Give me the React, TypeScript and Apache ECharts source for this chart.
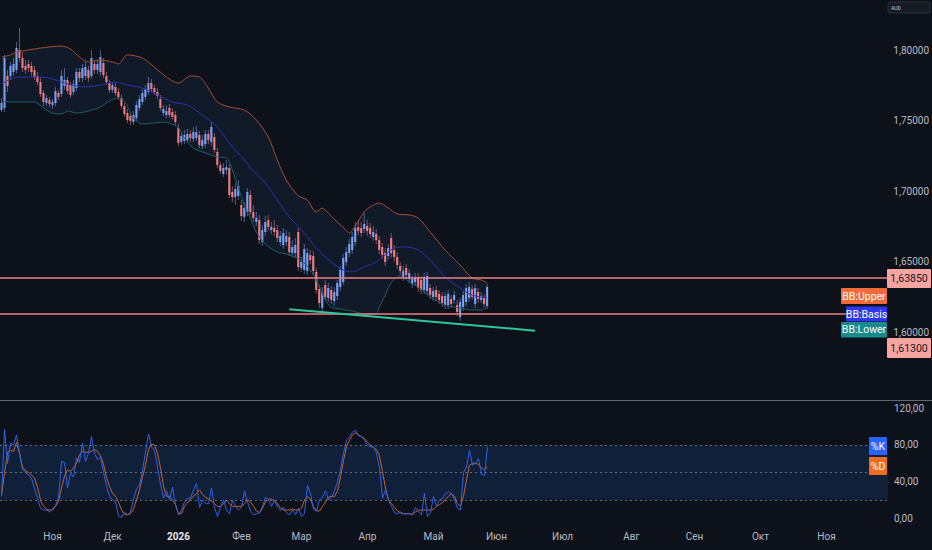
import React, { useEffect, useRef } from 'react';
import * as echarts from 'echarts';

// ---------- data ----------
const FIRST_DAY = [2025, 9, 9]; // 9 Oct 2025 (month is 0-based)
const BAR_SLOTS = 296; // visible daily slots incl. empty future
const holidays = ['2025-12-25', '2026-01-01'];

const opens = [
  1.7574, 1.7589, 1.7816, 1.7816, 1.7844, 1.7858, 1.8000, 1.7943, 1.7887, 1.7901,
  1.7887, 1.7858, 1.7816, 1.7773, 1.7695, 1.7624, 1.7645, 1.7610, 1.7624, 1.7695,
  1.7688, 1.7745, 1.7787, 1.7752, 1.7702, 1.7730, 1.7844, 1.7801, 1.7816, 1.7858,
  1.7816, 1.7901, 1.7858, 1.7844, 1.7908, 1.7816, 1.7766, 1.7716, 1.7738, 1.7702,
  1.7660, 1.7603, 1.7553, 1.7532, 1.7489, 1.7518, 1.7589, 1.7631, 1.7667, 1.7702,
  1.7766, 1.7730, 1.7702, 1.7652, 1.7553, 1.7539, 1.7589, 1.7560, 1.7539,
  1.7447, 1.7348, 1.7355, 1.7362, 1.7404, 1.7369, 1.7376, 1.7397, 1.7319,
  1.7333, 1.7404, 1.7348, 1.7383, 1.7277, 1.7184, 1.7121, 1.7149, 1.7163, 1.6993,
  1.6957, 1.6965, 1.6901, 1.6816, 1.6851, 1.6972, 1.6851, 1.6780, 1.6794, 1.6638,
  1.6709, 1.6794, 1.6723, 1.6738, 1.6723, 1.6638, 1.6617, 1.6638, 1.6674, 1.6560,
  1.6560, 1.6709, 1.6454, 1.6440, 1.6433, 1.6546, 1.6539, 1.6426, 1.6305, 1.6170,
  1.6333, 1.6241, 1.6298, 1.6220, 1.6255, 1.6319, 1.6355, 1.6496, 1.6560, 1.6582,
  1.6638, 1.6745, 1.6738, 1.6730, 1.6752, 1.6738, 1.6674, 1.6695, 1.6652, 1.6603,
  1.6560, 1.6539, 1.6667, 1.6582, 1.6532, 1.6468, 1.6390, 1.6454, 1.6376, 1.6340,
  1.6355, 1.6390, 1.6369, 1.6298, 1.6291, 1.6312, 1.6248, 1.6298, 1.6270, 1.6255,
  1.6191, 1.6191, 1.6234, 1.6227, 1.6191, 1.6106, 1.6177, 1.6213, 1.6241, 1.6305,
  1.6199, 1.6284, 1.6227, 1.6241, 1.6184,
];
const highs = [
  1.7660, 1.7965, 1.7858, 1.7915, 1.7943, 1.8057, 1.8156, 1.7986, 1.7929, 1.7929,
  1.7915, 1.7887, 1.7844, 1.7801, 1.7716, 1.7681, 1.7667, 1.7652, 1.7738, 1.7716,
  1.7858, 1.7872, 1.7809, 1.7773, 1.7787, 1.7872, 1.7872, 1.7901, 1.7915, 1.7887,
  1.8000, 1.7929, 1.7929, 1.8000, 1.7943, 1.7844, 1.7787, 1.7773, 1.7766, 1.7730,
  1.7681, 1.7624, 1.7582, 1.7560, 1.7567, 1.7638, 1.7681, 1.7723, 1.7752, 1.7809,
  1.7794, 1.7752, 1.7730, 1.7681, 1.7610, 1.7610, 1.7617, 1.7589, 1.7567,
  1.7475, 1.7418, 1.7433, 1.7440, 1.7433, 1.7454, 1.7461, 1.7426, 1.7397,
  1.7433, 1.7433, 1.7489, 1.7411, 1.7305, 1.7206, 1.7199, 1.7220, 1.7191, 1.7035,
  1.7057, 1.7078, 1.6936, 1.6922, 1.7021, 1.7007, 1.6901, 1.6851, 1.6830, 1.6759,
  1.6823, 1.6830, 1.6780, 1.6794, 1.6759, 1.6716, 1.6738, 1.6723, 1.6709, 1.6652,
  1.6667, 1.6738, 1.6532, 1.6624, 1.6596, 1.6582, 1.6574, 1.6454, 1.6333, 1.6319,
  1.6369, 1.6348, 1.6326, 1.6319, 1.6369, 1.6468, 1.6553, 1.6603, 1.6660, 1.6709,
  1.6780, 1.6794, 1.6780, 1.6844, 1.6794, 1.6773, 1.6752, 1.6730, 1.6681, 1.6631,
  1.6596, 1.6624, 1.6702, 1.6617, 1.6567, 1.6496, 1.6468, 1.6482, 1.6447, 1.6404,
  1.6418, 1.6418, 1.6397, 1.6418, 1.6426, 1.6340, 1.6319, 1.6326, 1.6298, 1.6284,
  1.6284, 1.6298, 1.6262, 1.6291, 1.6227, 1.6241, 1.6291, 1.6340, 1.6355, 1.6333,
  1.6340, 1.6312, 1.6284, 1.6270, 1.6340,
];
const lows = [
  1.7560, 1.7560, 1.7702, 1.7787, 1.7816, 1.7837, 1.7915, 1.7844, 1.7830, 1.7844,
  1.7816, 1.7787, 1.7752, 1.7667, 1.7603, 1.7603, 1.7596, 1.7582, 1.7603, 1.7645,
  1.7667, 1.7716, 1.7688, 1.7660, 1.7681, 1.7709, 1.7773, 1.7773, 1.7787, 1.7773,
  1.7794, 1.7830, 1.7830, 1.7816, 1.7801, 1.7752, 1.7695, 1.7695, 1.7674, 1.7645,
  1.7582, 1.7525, 1.7482, 1.7468, 1.7468, 1.7496, 1.7567, 1.7610, 1.7645, 1.7681,
  1.7702, 1.7681, 1.7652, 1.7567, 1.7532, 1.7518, 1.7518, 1.7504, 1.7468,
  1.7319, 1.7326, 1.7333, 1.7340, 1.7348, 1.7348, 1.7355, 1.7305, 1.7298,
  1.7305, 1.7333, 1.7319, 1.7270, 1.7163, 1.7121, 1.7099, 1.7113, 1.6950, 1.6922,
  1.6901, 1.6936, 1.6787, 1.6780, 1.6823, 1.6830, 1.6780, 1.6752, 1.6624, 1.6610,
  1.6681, 1.6716, 1.6695, 1.6681, 1.6638, 1.6610, 1.6589, 1.6610, 1.6539, 1.6532,
  1.6525, 1.6433, 1.6426, 1.6411, 1.6404, 1.6482, 1.6404, 1.6270, 1.6170, 1.6142,
  1.6227, 1.6213, 1.6199, 1.6184, 1.6227, 1.6291, 1.6333, 1.6468, 1.6532, 1.6553,
  1.6610, 1.6688, 1.6674, 1.6702, 1.6681, 1.6667, 1.6645, 1.6624, 1.6553, 1.6518,
  1.6468, 1.6511, 1.6525, 1.6496, 1.6447, 1.6404, 1.6362, 1.6376, 1.6348, 1.6312,
  1.6326, 1.6284, 1.6270, 1.6270, 1.6262, 1.6234, 1.6220, 1.6220, 1.6199, 1.6177,
  1.6163, 1.6163, 1.6170, 1.6199, 1.6113, 1.6078, 1.6149, 1.6184, 1.6213, 1.6227,
  1.6170, 1.6206, 1.6206, 1.6177, 1.6163,
];
const closes = [
  1.7624, 1.7943, 1.7745, 1.7887, 1.7901, 1.8014, 1.7943, 1.7872, 1.7858, 1.7872,
  1.7844, 1.7809, 1.7773, 1.7688, 1.7631, 1.7660, 1.7617, 1.7631, 1.7709, 1.7667,
  1.7816, 1.7787, 1.7709, 1.7681, 1.7759, 1.7844, 1.7801, 1.7872, 1.7879, 1.7801,
  1.7943, 1.7858, 1.7901, 1.7950, 1.7823, 1.7773, 1.7716, 1.7752, 1.7695, 1.7667,
  1.7603, 1.7546, 1.7504, 1.7496, 1.7539, 1.7610, 1.7652, 1.7695, 1.7723, 1.7766,
  1.7723, 1.7702, 1.7674, 1.7589, 1.7582, 1.7567, 1.7539, 1.7525, 1.7489,
  1.7340, 1.7390, 1.7397, 1.7404, 1.7376, 1.7418, 1.7418, 1.7326, 1.7362,
  1.7404, 1.7362, 1.7454, 1.7291, 1.7184, 1.7142, 1.7163, 1.7170, 1.6972, 1.6957,
  1.7014, 1.7035, 1.6823, 1.6879, 1.6993, 1.6851, 1.6809, 1.6809, 1.6652, 1.6723,
  1.6780, 1.6745, 1.6745, 1.6709, 1.6667, 1.6681, 1.6702, 1.6681, 1.6567, 1.6603,
  1.6617, 1.6461, 1.6496, 1.6589, 1.6560, 1.6511, 1.6433, 1.6298, 1.6206, 1.6277,
  1.6248, 1.6312, 1.6227, 1.6284, 1.6348, 1.6440, 1.6525, 1.6567, 1.6624, 1.6674,
  1.6738, 1.6716, 1.6702, 1.6766, 1.6716, 1.6695, 1.6709, 1.6652, 1.6582, 1.6546,
  1.6496, 1.6596, 1.6560, 1.6532, 1.6475, 1.6433, 1.6433, 1.6404, 1.6418, 1.6376,
  1.6390, 1.6312, 1.6298, 1.6390, 1.6397, 1.6262, 1.6291, 1.6248, 1.6227, 1.6206,
  1.6255, 1.6270, 1.6199, 1.6262, 1.6142, 1.6213, 1.6262, 1.6312, 1.6319, 1.6248,
  1.6312, 1.6234, 1.6255, 1.6199, 1.6319,
];

// Bollinger Bands: [bar index, price]
const bbUpper = [
  [0, 1.7950], [3, 1.7965], [5, 1.7986], [9, 1.8000], [13, 1.8014], [20, 1.8028], [23, 1.8007],
  [26, 1.7950], [29, 1.7915], [33, 1.7929], [37, 1.7915], [39, 1.7901], [42, 1.7965], [47, 1.7943],
  [51, 1.7879], [55, 1.7809], [59, 1.7766], [63, 1.7816], [66, 1.7809], [69, 1.7730], [72, 1.7631],
  [76, 1.7596], [81, 1.7574], [85, 1.7504], [89, 1.7383], [92, 1.7220], [95, 1.7078], [99, 1.6965],
  [102, 1.6936], [105, 1.6851], [107, 1.6879], [109, 1.6844], [112, 1.6780], [115, 1.6723],
  [116, 1.6702], [118, 1.6752], [121, 1.6851], [123, 1.6887], [126, 1.6915], [129, 1.6879],
  [132, 1.6837], [136, 1.6830], [139, 1.6809], [143, 1.6709], [148, 1.6582], [153, 1.6475],
  [157, 1.6383], [160, 1.6369], [162, 1.6348],
];
const bbBasis = [
  [0, 1.7759], [3, 1.7794], [6, 1.7809], [11, 1.7809], [16, 1.7801], [22, 1.7759], [28, 1.7738],
  [33, 1.7752], [38, 1.7773], [42, 1.7752], [47, 1.7730], [52, 1.7681], [57, 1.7631], [62, 1.7610],
  [67, 1.7539], [72, 1.7454], [76, 1.7340], [81, 1.7220], [83, 1.7163], [88, 1.7057], [92, 1.6936],
  [96, 1.6816], [101, 1.6702], [105, 1.6596], [110, 1.6496], [114, 1.6440], [117, 1.6426],
  [121, 1.6461], [125, 1.6496], [128, 1.6546], [131, 1.6596], [135, 1.6603], [139, 1.6582],
  [143, 1.6511], [148, 1.6390], [153, 1.6312], [157, 1.6262], [162, 1.6241],
];
const bbLower = [
  [0, 1.7638], [3, 1.7631], [6, 1.7631], [11, 1.7631], [14, 1.7589], [17, 1.7553], [20, 1.7546],
  [22, 1.7567], [25, 1.7553], [29, 1.7567], [33, 1.7596], [36, 1.7638], [39, 1.7660], [41, 1.7638],
  [44, 1.7518], [47, 1.7475], [51, 1.7482], [54, 1.7489], [56, 1.7482], [59, 1.7447], [61, 1.7376],
  [64, 1.7305], [68, 1.7270], [72, 1.7241], [75, 1.7234], [77, 1.7149], [79, 1.7021], [81, 1.6901],
  [83, 1.6809], [85, 1.6709], [88, 1.6624], [92, 1.6567], [95, 1.6553], [99, 1.6518], [102, 1.6468],
  [105, 1.6369], [108, 1.6227], [110, 1.6177], [113, 1.6163], [117, 1.6149], [121, 1.6128],
  [125, 1.6128], [126, 1.6177], [128, 1.6262], [130, 1.6348], [133, 1.6397], [136, 1.6355],
  [139, 1.6319], [143, 1.6248], [148, 1.6191], [153, 1.6170], [157, 1.6156], [160, 1.6156],
  [162, 1.6177],
];

// Stochastic %K / %D per bar
const stochK = [
  24, 97, 60, 82, 80, 91, 71, 53, 51, 47, 44, 32, 22, 11, 9, 9, 7, 10, 14, 23,
  62, 61, 33, 49, 45, 66, 61, 82, 62, 71, 89, 71, 64, 67, 50, 35, 24, 20, 18, 3,
  1, 7, 4, 7, 21, 32, 36, 52, 72, 92, 78, 74, 56, 37, 22, 30, 20, 34, 15,
  4, 9, 18, 22, 22, 31, 38, 12, 20, 16, 16, 33, 12, 2, 12, 20, 9, 5, 20,
  13, 9, 12, 30, 18, 8, 4, 5, 6, 13, 23, 20, 13, 20, 12, 9, 12, 6, 4, 9,
  4, 11, 2, 5, 36, 27, 10, 8, 20, 23, 30, 20, 23, 30, 40, 53, 71, 85, 89, 94,
  96, 90, 89, 85, 80, 78, 78, 71, 55, 22, 31, 20, 13, 6, 5, 7, 5, 5, 5, 4,
  12, 7, 4, 27, 2, 6, 24, 13, 20, 22, 27, 29, 27, 20, 11, 9, 50, 56, 74, 58,
  60, 65, 48, 47, 78,
];
const stochD = [
  25, 49, 72, 74, 73, 83, 71, 56, 52, 50, 47, 44, 34, 20, 13, 10, 9, 9, 13, 18,
  33, 46, 53, 51, 55, 60, 69, 73, 72, 72, 73, 75, 73, 68, 59, 44, 35, 27, 24, 18,
  9, 4, 4, 5, 10, 20, 31, 45, 58, 75, 81, 80, 71, 55, 35, 24, 24, 20, 15,
  5, 5, 13, 17, 21, 24, 27, 31, 26, 23, 21, 19, 16, 13, 13, 16, 20, 16, 13,
  13, 13, 13, 16, 20, 18, 13, 8, 6, 11, 18, 21, 21, 19, 16, 11, 9, 9, 9, 10,
  9, 9, 11, 20, 24, 20, 13, 8, 8, 13, 18, 23, 24, 24, 30, 45, 63, 78, 85, 91,
  93, 91, 89, 87, 83, 80, 77, 75, 68, 51, 33, 20, 16, 12, 8, 6, 5, 5, 5, 4,
  7, 9, 9, 9, 9, 9, 10, 13, 15, 17, 21, 24, 27, 24, 16, 13, 24, 42, 58, 60,
  60, 59, 55, 53, 56,
];

const levelPrices = [1.6385, 1.613];
const levelLabels = ['1,63850', '1,61300'];
const trendLine = [[96, 1.6161], [178, 1.6009]];
const priceTicks = [1.6, 1.65, 1.7, 1.75, 1.8];
const stochTicks = [0, 40, 80, 120];
const stochGuides = [20, 50, 80];
const monthNames = ['Янв', 'Фев', 'Мар', 'Апр', 'Май', 'Июн', 'Июл', 'Авг', 'Сен', 'Окт', 'Ноя', 'Дек'];
const bbTags = ['BB:Upper', 'BB:Basis', 'BB:Lower'];
const stochTags = ['%K', '%D'];

// ---------- style ----------
const BG = '#0d1119';
const FONT = 'Roboto, "Noto Sans", sans-serif';
const AXIS_TEXT = '#b8bbc4';
const UP = '#7ba2f2';
const DN = '#f27c81';
const UP_WICK = 'rgba(123,162,242,0.55)';
const DN_WICK = 'rgba(242,124,129,0.55)';
const LEVEL = '#ec8083';
const PX_PER_UNIT = 1410;
const PRICE_MAX = 1.8 + 50 / PX_PER_UNIT;
const PRICE_MIN = 1.8 - 350 / PX_PER_UNIT;

function buildDates(): string[] {
  const out: string[] = [];
  const d = new Date(Date.UTC(FIRST_DAY[0], FIRST_DAY[1], FIRST_DAY[2]));
  while (out.length < BAR_SLOTS) {
    const wd = d.getUTCDay();
    const s = d.toISOString().slice(0, 10);
    if (wd !== 0 && wd !== 6 && holidays.indexOf(s) < 0) out.push(s);
    d.setUTCDate(d.getUTCDate() + 1);
  }
  return out;
}

function buildOption() {
  const dates = buildDates();
  const isMonthStart = (i: number) => i > 0 && dates[i].slice(5, 7) !== dates[i - 1].slice(5, 7);
  const comma = (v: number, d: number) => v.toFixed(d).replace('.', ',');
  const candleData = opens.map((o, i) => [i, o, closes[i], lows[i], highs[i]]);

  const tag = (x: number, y: number, w: number, h: number, fill: string, text: string, color: string) => [
    { type: 'rect', shape: { x, y, width: w, height: h, r: 1 }, style: { fill }, z: 100 },
    {
      type: 'text', x: x + w / 2, y: y + h / 2, z: 101,
      style: { text, fill: color, fontSize: 10.5, fontFamily: FONT, align: 'center', verticalAlign: 'middle' },
    },
  ];

  return {
    animation: false,
    backgroundColor: BG,
    textStyle: { fontFamily: FONT },
    grid: [
      { left: 0, right: 44, top: 0, height: 400 },
      { left: 0, right: 44, top: 399.1, height: 128.4 },
    ],
    xAxis: [
      { type: 'category', data: dates, gridIndex: 0, show: false },
      {
        type: 'category', data: dates, gridIndex: 1,
        axisLine: { show: false }, axisTick: { show: false }, splitLine: { show: false },
        axisLabel: {
          interval: (i: number) => isMonthStart(i) && i < BAR_SLOTS - 4,
          formatter: (v: string) => {
            const m = +v.slice(5, 7);
            return m === 1 ? `{yr|${v.slice(0, 4)}}` : monthNames[m - 1];
          },
          color: AXIS_TEXT, fontSize: 10, margin: 4,
          rich: { yr: { fontWeight: 'bold', color: '#e6e8ee', fontSize: 10 } },
        },
      },
    ],
    yAxis: [
      {
        type: 'value', gridIndex: 0, position: 'right', min: PRICE_MIN, max: PRICE_MAX,
        axisLine: { show: false }, axisTick: { show: false }, splitLine: { show: false },
        axisLabel: {
          customValues: priceTicks,
          formatter: (v: number) => comma(v, 5), color: AXIS_TEXT, fontSize: 10, margin: 6,
        },
      },
      {
        type: 'value', gridIndex: 1, position: 'right', min: -10, max: 130,
        axisLine: { show: false }, axisTick: { show: false }, splitLine: { show: false },
        axisLabel: {
          customValues: stochTicks,
          formatter: (v: number) => comma(v, 2), color: AXIS_TEXT, fontSize: 10, margin: 6,
        },
      },
    ],
    series: [
      {
        name: 'bbFill', type: 'custom', xAxisIndex: 0, yAxisIndex: 0, z: 1, silent: true,
        data: [[0, bbBasis[0][1]]],
        renderItem: (_p: any, api: any) => {
          const up = bbUpper.map(([i, v]) => api.coord([i, v]));
          const lo = bbLower.map(([i, v]) => api.coord([i, v])).reverse();
          return { type: 'polygon', shape: { points: up.concat(lo), smooth: 0.25 }, style: { fill: '#111a29' } };
        },
      },
      {
        name: 'candles', type: 'custom', xAxisIndex: 0, yAxisIndex: 0, z: 2,
        data: candleData,
        encode: { x: 0, y: [1, 2, 3, 4] },
        renderItem: (_p: any, api: any) => {
          const i = api.value(0);
          const o = api.value(1), c = api.value(2), l = api.value(3), h = api.value(4);
          const bull = c >= o;
          const pH = api.coord([i, h]);
          const pL = api.coord([i, l]);
          const pO = api.coord([i, o]);
          const pC = api.coord([i, c]);
          const w = api.size([1, 0])[0] * 0.7;
          const top = Math.min(pO[1], pC[1]);
          const hh = Math.max(Math.abs(pO[1] - pC[1]), 1);
          return {
            type: 'group',
            children: [
              { type: 'line', shape: { x1: pH[0], y1: pH[1], x2: pL[0], y2: pL[1] }, style: { stroke: bull ? UP_WICK : DN_WICK, lineWidth: 1 } },
              { type: 'rect', shape: { x: pO[0] - w / 2, y: top, width: w, height: hh }, style: { fill: bull ? UP : DN } },
            ],
          };
        },
      },
      {
        name: 'BB Upper', type: 'line', xAxisIndex: 0, yAxisIndex: 0, z: 3, data: bbUpper,
        smooth: 0.3, symbol: 'none', silent: true, lineStyle: { color: '#a44e30', width: 1 },
      },
      {
        name: 'BB Lower', type: 'line', xAxisIndex: 0, yAxisIndex: 0, z: 3, data: bbLower,
        smooth: 0.3, symbol: 'none', silent: true, lineStyle: { color: '#1c6068', width: 1 },
      },
      {
        name: 'BB Basis', type: 'line', xAxisIndex: 0, yAxisIndex: 0, z: 4, data: bbBasis,
        smooth: 0.3, symbol: 'none', silent: true, lineStyle: { color: '#2a32b0', width: 1 },
        markLine: {
          silent: true, symbol: ['none', 'none'], label: { show: false }, precision: 5,
          data: [
            ...levelPrices.map((p) => ({ yAxis: p, lineStyle: { color: LEVEL, width: 1.5, type: 'solid' } })),
            [
              { coord: trendLine[0], lineStyle: { color: '#2bc79b', width: 2, type: 'solid' } },
              { coord: trendLine[1], lineStyle: { color: '#2bc79b', width: 2, type: 'solid' } },
            ],
          ],
        },
      },
      {
        name: '%D', type: 'line', xAxisIndex: 1, yAxisIndex: 1, z: 3, data: stochD,
        symbol: 'none', silent: true, lineStyle: { color: '#c9622c', width: 1 },
        markArea: {
          silent: true,
          itemStyle: { color: '#102039' },
          data: [[{ yAxis: stochGuides[0] }, { yAxis: stochGuides[2] }]],
        },
        markLine: {
          silent: true, symbol: ['none', 'none'], label: { show: false },
          lineStyle: { color: 'rgba(125,130,145,0.75)', width: 1, type: [2, 3] },
          data: stochGuides.map((g) => ({ yAxis: g })),
        },
      },
      {
        name: '%K', type: 'line', xAxisIndex: 1, yAxisIndex: 1, z: 4, data: stochK,
        symbol: 'none', silent: true, lineStyle: { color: '#2f62e6', width: 1 },
      },
    ],
    graphic: [
      { type: 'line', shape: { x1: 0, y1: 400.5, x2: 932, y2: 400.5 }, style: { stroke: '#62666f', lineWidth: 1.2 }, z: 100 },
      { type: 'rect', shape: { x: 888, y: 2, width: 42, height: 11, r: 2 }, style: { fill: '#171b24', stroke: '#2c313c', lineWidth: 1 }, z: 100 },
      { type: 'text', x: 891, y: 7.5, z: 101, style: { text: 'AUD', fill: '#d1d4dc', fontSize: 5, fontFamily: FONT, verticalAlign: 'middle' } },
      ...tag(887, 269, 44, 19, '#f7a3a0', levelLabels[0], '#131722'),
      ...tag(887, 338, 44, 20, '#f7a3a0', levelLabels[1], '#131722'),
      ...tag(841, 288, 46, 16, '#f26a38', bbTags[0], '#ffffff'),
      ...tag(846, 306.5, 41, 15, '#2c37ee', bbTags[1], '#ffffff'),
      ...tag(841, 322, 46, 15.5, '#178a8c', bbTags[2], '#ffffff'),
      ...tag(869, 437, 18, 18, '#2962ff', stochTags[0], '#ffffff'),
      ...tag(869, 457, 18, 18, '#f26b1f', stochTags[1], '#ffffff'),
    ],
  };
}

export default function App() {
  const ref = useRef<HTMLDivElement>(null);
  useEffect(() => {
    if (!ref.current) return;
    const chart = echarts.init(ref.current, null, { renderer: 'svg' });
    chart.setOption(buildOption() as any);
    return () => chart.dispose();
  }, []);
  return (
    <div
      ref={ref}
      style={{ position: 'fixed', left: 0, top: 0, width: 932, height: 550, background: BG }}
    />
  );
}
